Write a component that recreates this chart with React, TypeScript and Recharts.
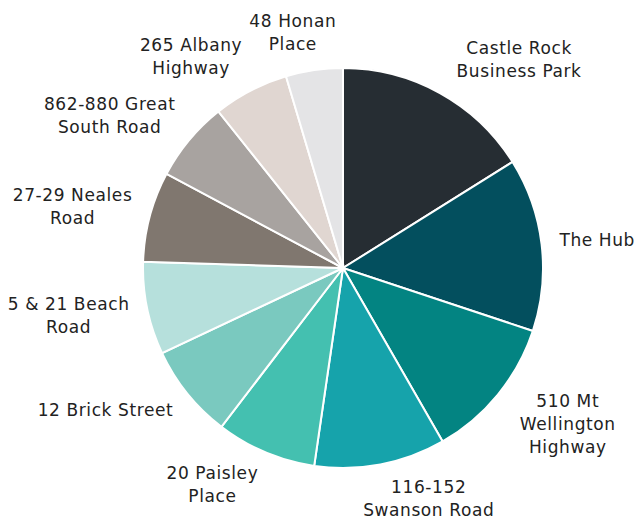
import { PieChart, Pie, Cell } from 'recharts';

const names = [
  'Castle Rock\nBusiness Park',
  'The Hub',
  '510 Mt\nWellington\nHighway',
  '116-152\nSwanson Road',
  '20 Paisley\nPlace',
  '12 Brick Street',
  '5 & 21 Beach\nRoad',
  '27-29 Neales\nRoad',
  '862-880 Great\nSouth Road',
  '265 Albany\nHighway',
  '48 Honan\nPlace',
];
const shares = [16.1, 14.0, 11.6, 10.6, 8.1, 7.6, 7.5, 7.3, 6.5, 6.1, 4.6];
const colors = [
  '#262d33', '#034f5e', '#038482', '#16a3ab', '#44c0b0', '#7ac9bf',
  '#b6e0dc', '#80776f', '#a8a3a0', '#e0d6d1', '#e4e4e6',
];

const data = names.map((name, i) => ({ name, value: shares[i] }));

const FONT = '17px "DejaVu Sans"';
const SPACING = 0.6;
const LINE_H = 23;
const RAD = Math.PI / 180;

let ctx: CanvasRenderingContext2D | null = null;
function textWidth(s: string) {
  if (!ctx) ctx = document.createElement('canvas').getContext('2d');
  if (!ctx) return s.length * 10;
  ctx.font = FONT;
  return ctx.measureText(s).width + s.length * SPACING;
}

function renderLabel(props: any) {
  const { cx, cy, midAngle, outerRadius, index } = props;
  const lines = names[index].split('\n');
  const halfW = Math.max(...lines.map(textWidth)) / 2;
  const halfH = (lines.length * LINE_H) / 2;
  const dx = Math.cos(-midAngle * RAD);
  const dy = Math.sin(-midAngle * RAD);
  const r = outerRadius + 18;
  const ax = cx + r * dx;
  const ay = cy + r * dy;
  // right-hand diagonal labels sit a little further out in the original
  const nudge = dx > 0.05 && dx < 0.9 ? 8 : 0;
  const x = ax + nudge + halfW * Math.max(-1, Math.min(1, dx * 3));
  const y = ay + halfH * dy * 0.85 - (dy > 0.9 ? 2 : 0);
  const top = y - halfH;
  return (
    <text
      key={index}
      x={x}
      y={top}
      textAnchor="middle"
      fill="#222222"
      style={{ font: FONT, letterSpacing: SPACING }}
    >
      {lines.map((l, j) => (
        <tspan key={j} x={x} y={top + j * LINE_H + 17}>
          {l}
        </tspan>
      ))}
    </text>
  );
}

export default function App() {
  return (
    <div style={{ position: 'absolute', left: 0, top: 0, background: '#fff' }}>
      <PieChart width={641} height={518}>
        <Pie
          data={data}
          dataKey="value"
          nameKey="name"
          cx={338}
          cy={263}
          outerRadius={200}
          startAngle={90}
          endAngle={-270}
          stroke="#ffffff"
          strokeWidth={2}
          label={renderLabel}
          labelLine={false}
          isAnimationActive={false}
        >
          {data.map((d, i) => (
            <Cell key={d.name} fill={colors[i]} />
          ))}
        </Pie>
      </PieChart>
    </div>
  );
}
